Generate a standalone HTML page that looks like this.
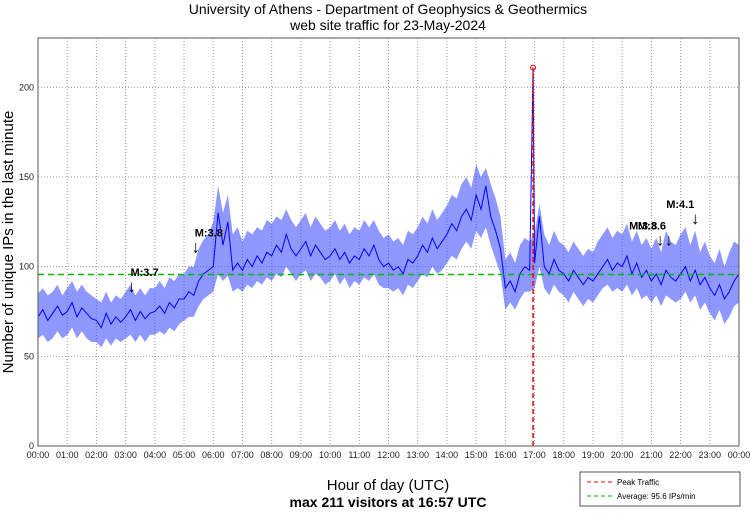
<!DOCTYPE html>
<html><head><meta charset="utf-8"><style>
body{margin:0;background:#fff;font-family:"Liberation Sans",sans-serif}
svg text{font-family:"Liberation Sans",sans-serif}
</style></head><body>
<svg id="c" width="750" height="511" xmlns="http://www.w3.org/2000/svg">
<text x="388" y="14" font-size="14" text-anchor="middle">University of Athens - Department of Geophysics &amp; Geothermics</text>
<text x="388" y="30" font-size="14" text-anchor="middle">web site traffic for 23-May-2024</text>
<text transform="translate(13,242) rotate(-90)" font-size="15" text-anchor="middle">Number of unique IPs in the last minute</text>
<text x="388" y="490" font-size="15" text-anchor="middle">Hour of day (UTC)</text>
<text x="388" y="507" font-size="14" font-weight="bold" text-anchor="middle">max 211 visitors at 16:57 UTC</text>
<g id="grid"></g><g id="series"></g><g id="marks"></g>
<rect x="38" y="38" width="701" height="408" fill="none" stroke="#555"/>
<g>
<rect x="580" y="472" width="160" height="34" fill="#fff" stroke="#555"/>
<line x1="587" y1="482" x2="613" y2="482" stroke="red" stroke-dasharray="4,3"/>
<text x="617" y="485" font-size="8">Peak Traffic</text>
<line x1="587" y1="496" x2="613" y2="496" stroke="#0b0" stroke-dasharray="4,3"/>
<text x="617" y="499" font-size="8">Average: 95.6 IPs/min</text>
</g>
</svg>
<script>
const values=[72,76,70,74,78,73, 75,80,72,77,74,71, 70,66,74,68,72,69, 72,76,70,75,71,74, 75,78,74,80,77,82, 82,86,84,92,96,98,
100,130,112,125,98,102, 98,104,100,106,102,108, 106,112,108,118,110,106, 110,114,106,112,108,104, 106,110,104,108,102,106, 104,110,106,112,104,100,
102,98,100,96,104,102, 106,112,108,116,110,114, 118,124,120,128,132,126, 140,132,145,128,120,110, 88,92,86,96,100,98, 102,128,100,96,104,98,
96,92,98,94,90,94, 92,96,100,104,98,102, 100,106,96,102,94,98, 92,96,90,98,94,92, 96,100,92,98,90,94, 88,84,90,82,86,92, 96];
const highs=[85,88,84,86,90,84, 88,92,86,90,86,84, 82,80,86,80,84,82, 86,90,84,88,84,88, 88,92,88,94,92,96, 96,100,100,110,115,118,
125,145,130,140,118,122, 114,120,118,122,120,126, 124,128,126,132,126,122, 126,130,122,128,124,120, 122,126,120,124,118,122, 120,126,122,126,120,116,
118,114,116,112,120,118, 122,128,124,132,126,130, 134,140,138,146,150,144, 157,150,155,146,138,128, 104,108,102,112,116,114, 118,135,118,112,120,114,
112,108,114,110,106,110, 108,114,118,122,116,120, 118,124,114,120,112,116, 110,116,108,120,114,112, 118,122,112,120,108,114, 106,102,110,100,108,114, 112];
const lows=[60,62,58,60,64,60, 62,66,60,64,60,58, 58,55,60,56,60,58, 60,62,58,62,58,62, 62,64,62,66,64,68, 70,72,72,78,82,84,
86,96,92,95,86,88, 86,90,88,92,90,94, 92,96,94,100,96,92, 96,98,92,96,94,90, 92,96,90,94,88,92, 90,94,92,96,90,88,
88,86,88,84,90,88, 92,96,94,100,96,98, 102,106,104,110,114,110, 120,116,122,112,104,96, 76,80,76,82,86,86, 88,100,88,84,90,86,
84,80,86,82,78,82, 80,84,88,90,86,88, 86,90,84,88,82,84, 80,84,78,84,82,80, 82,86,80,84,76,80, 74,70,76,68,72,78, 80];
const peakHour=16.95, peakValue=211, average=95.6;
const yTicks=[0,50,100,150,200];
const hourLabels=["00:00","01:00","02:00","03:00","04:00","05:00","06:00","07:00","08:00","09:00","10:00","11:00","12:00","13:00","14:00","15:00","16:00","17:00","18:00","19:00","20:00","21:00","22:00","23:00","00:00"];
const quakeLabels=["M:3.7","M:3.8","M:3.8","M:3.6","M:4.1"];
const quakeHours=[3.2,5.4,21.3,21.6,22.5];
const quakeLevels=[88,110,114,114,126];
const quakeTextOffsets=[0,0,-30,-30,-28];
const NS="http://www.w3.org/2000/svg";
const X=h=>38+h*701/24, Y=v=>446-v*408/227.5;
function mk(t,a,p){const e=document.createElementNS(NS,t);for(const k in a)e.setAttribute(k,a[k]);p.appendChild(e);return e;}
const g=document.getElementById('grid'),s=document.getElementById('series'),m=document.getElementById('marks');
hourLabels.forEach((l,i)=>{const x=X(i);
 if(i>0&&i<24){const ln=mk('line',{x1:x,y1:38,x2:x,y2:446,stroke:'#999','stroke-dasharray':'1,2'},g);
 
 }
 const t=mk('text',{x:x,y:458,'font-size':9,'text-anchor':'middle',fill:'#222'},g);t.textContent=l;
 
 });
yTicks.forEach(v=>{const y=Y(v);
 if(v>0){const ln=mk('line',{x1:38,y1:y,x2:739,y2:y,stroke:'#999','stroke-dasharray':'1,2'},g);
 
 }
 const t=mk('text',{x:34,y:y+3,'font-size':9,'text-anchor':'end',fill:'#222'},g);t.textContent=v;
 
 });
const bandPts=highs.map((v,i)=>X(i/6)+','+Y(v)).concat(lows.map((v,i)=>X(i/6)+','+Y(v)).reverse());
const band=mk('polygon',{points:bandPts.join(' '),fill:'#3344ff','fill-opacity':0.55,stroke:'none'},s);


const pts=[];let done=false;values.forEach((v,i)=>{const h=i/6;if(!done&&h>peakHour){pts.push([peakHour,peakValue]);done=true;}pts.push([h,v]);});
const pl=mk('polyline',{points:pts.map(p=>X(p[0])+','+Y(p[1])).join(' '),fill:'none',stroke:'#00f','stroke-width':1},s);


const av=mk('line',{x1:38,x2:739,y1:Y(average),y2:Y(average),stroke:'#0b0','stroke-width':1.5,'stroke-dasharray':'6,4'},m);


const pk=mk('line',{x1:X(peakHour),x2:X(peakHour),y1:446,y2:Y(peakValue),stroke:'red','stroke-width':1.5,'stroke-dasharray':'5,3'},m);


const pc=mk('circle',{cx:X(peakHour),cy:Y(peakValue),r:2.5,fill:'none',stroke:'red'},m);


quakeLabels.forEach((l,i)=>{const x=X(quakeHours[i]),y=Y(quakeLevels[i]);
 const t=mk('text',{x:x-1+quakeTextOffsets[i],y:y-12,'font-size':11,'font-weight':'bold','text-anchor':'start'},m);t.textContent=l;
 
 
 const a=mk('text',{x:x,y:y+4,'font-size':17,'text-anchor':'middle'},m);a.textContent='↓';
 
 });
</script>
</body></html>
